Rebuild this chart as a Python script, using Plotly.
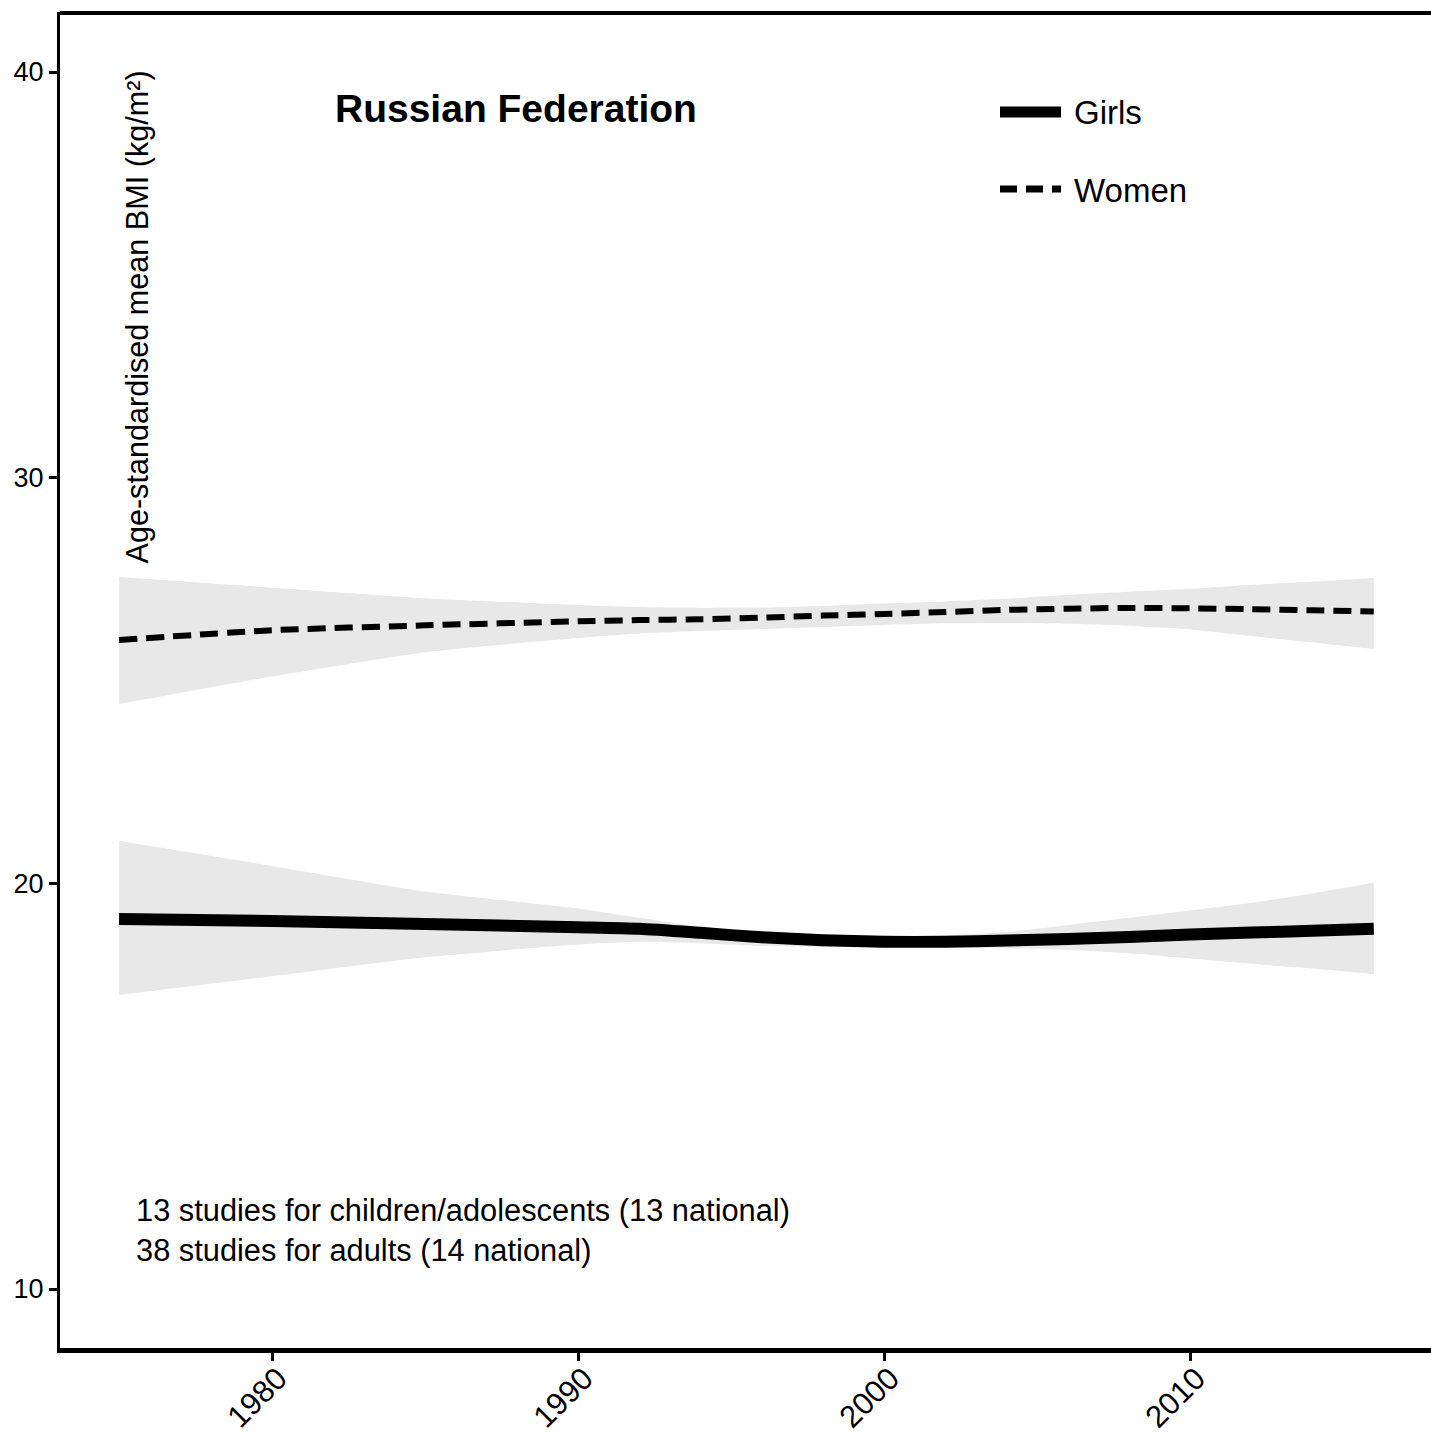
import plotly.graph_objects as go

# ---- data ----
years = [1975, 1980, 1985, 1990, 1992, 1994, 1996, 1998, 2000, 2002, 2004, 2006, 2008, 2010, 2012, 2014, 2016]

women_mean = [26.00, 26.24, 26.36, 26.46, 26.49, 26.51, 26.55, 26.60, 26.64, 26.69, 26.74, 26.77, 26.79, 26.78, 26.76, 26.73, 26.70]
women_upper = [27.55, 27.29, 27.03, 26.86, 26.81, 26.79, 26.80, 26.84, 26.90, 26.95, 27.02, 27.11, 27.19, 27.26, 27.36, 27.44, 27.53]
women_lower = [24.42, 25.10, 25.70, 26.05, 26.16, 26.22, 26.27, 26.32, 26.37, 26.41, 26.42, 26.40, 26.35, 26.26, 26.10, 25.94, 25.78]

girls_mean = [19.12, 19.07, 19.00, 18.92, 18.88, 18.78, 18.67, 18.60, 18.56, 18.56, 18.59, 18.63, 18.68, 18.74, 18.79, 18.83, 18.88]
girls_upper = [21.05, 20.43, 19.80, 19.38, 19.15, 18.93, 18.78, 18.72, 18.70, 18.72, 18.80, 18.97, 19.15, 19.33, 19.52, 19.75, 20.02]
girls_lower = [17.25, 17.71, 18.18, 18.49, 18.56, 18.52, 18.46, 18.43, 18.42, 18.43, 18.40, 18.36, 18.28, 18.15, 18.02, 17.90, 17.76]

y_ticks = [10, 20, 30, 40]
x_ticks = [1980, 1990, 2000, 2010]

country = "Russian Federation"
y_title = "Age-standardised mean BMI (kg/m²)"
note_children = "13 studies for children/adolescents (13 national)"
note_adults = "38 studies for adults (14 national)"
series_names = ["Girls", "Women"]

FONT = "Liberation Sans, Arial, Helvetica, sans-serif"
BAND = "rgb(232,232,232)"

fig = go.Figure()

for lo, hi in [(women_lower, women_upper), (girls_lower, girls_upper)]:
    fig.add_trace(go.Scatter(x=years, y=lo, mode="lines", line=dict(width=0, shape="spline", smoothing=0.5),
                             hoverinfo="skip", showlegend=False))
    fig.add_trace(go.Scatter(x=years, y=hi, mode="lines", line=dict(width=0, shape="spline", smoothing=0.5),
                             fill="tonexty", fillcolor=BAND, hoverinfo="skip", showlegend=False))

fig.add_trace(go.Scatter(x=years, y=women_mean, mode="lines", name=series_names[1],
                         line=dict(color="black", width=6, dash="18px,9px", shape="spline", smoothing=0.6),
                         showlegend=False))
fig.add_trace(go.Scatter(x=years, y=girls_mean, mode="lines", name=series_names[0],
                         line=dict(color="black", width=12, shape="spline", smoothing=0.6),
                         showlegend=False))

W, H = 1431, 1448
L, R, T, B = 60, 0, 12, 100
pw, ph = W - L - R, H - T - B


def px(xp):
    return (xp - L) / pw


def py(yp):
    return 1 - (yp - T) / ph


shapes = [
    # top border
    dict(type="line", xref="paper", yref="paper", x0=0, x1=1, y0=py(13), y1=py(13),
         line=dict(color="black", width=4)),
    # legend keys
    dict(type="line", xref="paper", yref="paper", x0=px(1000), x1=px(1061), y0=py(112), y1=py(112),
         line=dict(color="black", width=11)),
    dict(type="line", xref="paper", yref="paper", x0=px(1000), x1=px(1061), y0=py(189), y1=py(189),
         line=dict(color="black", width=7, dash="17px,9px")),
]

annotations = [
    dict(text=f"<b>{country}</b>", xref="paper", yref="paper", x=px(516), y=py(108),
         xanchor="center", yanchor="middle", showarrow=False, font=dict(family=FONT, size=39, color="black")),
    dict(text=series_names[0], xref="paper", yref="paper", x=px(1072), y=py(113),
         xanchor="left", yanchor="middle", showarrow=False, font=dict(family=FONT, size=33, color="black")),
    dict(text=series_names[1], xref="paper", yref="paper", x=px(1072), y=py(190),
         xanchor="left", yanchor="middle", showarrow=False, font=dict(family=FONT, size=33, color="black")),
    dict(text=y_title, xref="paper", yref="paper", x=px(137), y=py(69), textangle=-90,
         xanchor="center", yanchor="top", showarrow=False, font=dict(family=FONT, size=30.6, color="black")),
    dict(text=note_children, xref="paper", yref="paper", x=px(134), y=py(1210),
         xanchor="left", yanchor="middle", showarrow=False, font=dict(family=FONT, size=30.8, color="black")),
    dict(text=note_adults, xref="paper", yref="paper", x=px(134), y=py(1250),
         xanchor="left", yanchor="middle", showarrow=False, font=dict(family=FONT, size=30.8, color="black")),
]

fig.update_layout(
    width=W, height=H,
    margin=dict(l=L, r=R, t=T, b=B, pad=0),
    paper_bgcolor="white", plot_bgcolor="white",
    showlegend=False,
    shapes=shapes, annotations=annotations,
    font=dict(family=FONT, color="black"),
)

fig.update_xaxes(range=[1973.07, 2017.87], tickvals=x_ticks, ticktext=[str(v) for v in x_ticks],
                 showgrid=False, zeroline=False, showline=True, linecolor="black", linewidth=5,
                 ticks="outside", ticklen=8, tickwidth=3, tickcolor="black", tickangle=-45,
                 ticklabelstandoff=-13, ticklabelshift=6,
                 tickfont=dict(family=FONT, size=31, color="black"))
fig.update_yaxes(range=[8.546, 41.48], tickvals=y_ticks, ticktext=[str(v) for v in y_ticks],
                 showgrid=False, zeroline=False, showline=True, linecolor="black", linewidth=3,
                 ticks="outside", ticklen=8, tickwidth=3, tickcolor="black",
                 tickfont=dict(family=FONT, size=27, color="black"))

fig.write_html(
    "out.html",
    config={"displayModeBar": False},
    post_script="document.body.style.margin='0';document.documentElement.style.overflow='hidden';",
)
